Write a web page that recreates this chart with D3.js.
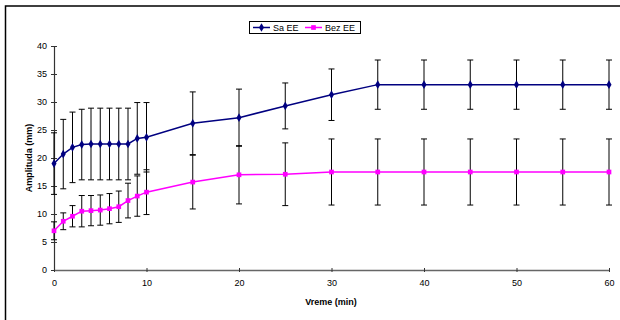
<!DOCTYPE html>
<html><head><meta charset="utf-8">
<script src="https://cdn.jsdelivr.net/npm/d3@7"></script>
<style>body{margin:0;background:#fff}svg{display:block}text{font-family:"Liberation Sans",Arial,sans-serif}</style>
</head><body>
<svg id="c" width="620" height="320"></svg>
<script>
const times = [0,1,2,3,4,5,6,7,8,9,10,15,20,25,30,35,40,45,50,55,60];
const saEE  = [19.0,20.7,21.9,22.4,22.5,22.5,22.5,22.5,22.5,23.5,23.7,26.2,27.2,29.3,31.3,33.1,33.1,33.1,33.1,33.1,33.1];
const saErr = [5.5,6.2,6.3,6.3,6.4,6.4,6.4,6.4,6.4,6.4,6.2,5.6,5.1,4.1,4.6,4.4,4.4,4.4,4.4,4.4,4.4];
const bezEE = [7.0,8.7,9.6,10.5,10.6,10.7,10.95,11.3,12.4,13.2,13.9,15.7,17.0,17.1,17.5,17.5,17.5,17.5,17.5,17.5,17.5];
const bezErr= [1.6,1.5,1.9,2.8,2.7,2.7,2.7,2.8,3.1,3.6,4.0,4.8,5.2,5.6,5.9,5.9,5.9,5.9,5.9,5.9,5.9];
const seriesNames = ["Sa EE","Bez EE"];
const xTicks = [0,10,20,30,40,50,60];
const yTicks = [0,5,10,15,20,25,30,35,40];

const svg = d3.select("#c");
// outer frame
svg.append("rect").attr("x",5.5).attr("y",6).attr("width",640).attr("height",340)
  .attr("fill","none").attr("stroke","#000").attr("stroke-width",1.5);

const x = d3.scaleLinear().domain([0,60]).range([54,609]);
const y = d3.scaleLinear().domain([0,40]).range([270,46]);

const series = [
  {name:seriesNames[0], vals:saEE, err:saErr, color:"#000080", marker:"diamond"},
  {name:seriesNames[1], vals:bezEE, err:bezErr, color:"#FF00FF", marker:"square"}
];

// axes
const yAxis = d3.axisLeft(y).tickValues(yTicks).tickSizeInner(3).tickSizeOuter(0).tickPadding(4);
const gy = svg.append("g").attr("transform","translate(54,0)").call(yAxis);
gy.select(".domain").attr("stroke","#333").attr("stroke-width",1.2);
gy.selectAll(".tick line").attr("x2",3).attr("x1",-3).attr("stroke","#333");
gy.selectAll("text").attr("font-size",9).attr("fill","#000");

const xAxis = d3.axisBottom(x).tickValues(xTicks).tickSizeInner(3).tickSizeOuter(0).tickPadding(7);
const gx = svg.append("g").attr("transform","translate(0,270)").call(xAxis);
gx.select(".domain").attr("stroke","#666").attr("stroke-width",1.5);
gx.selectAll(".tick line").attr("y1",-2).attr("y2",2).attr("stroke","#333");
gx.selectAll("text").attr("font-size",9).attr("fill","#000");

// titles
svg.append("text").attr("x",331).attr("y",305).attr("text-anchor","middle")
  .attr("font-size",9).attr("font-weight","bold").text("Vreme (min)");
svg.append("text").attr("transform","translate(32,158) rotate(-90)").attr("text-anchor","middle")
  .attr("font-size",9).attr("font-weight","bold").text("Amplituda (mm)");

// error bars
series.forEach(s=>{
  const g = svg.append("g");
  times.forEach((t,i)=>{
    const cx = x(t), y1 = y(s.vals[i]+s.err[i]), y2 = y(s.vals[i]-s.err[i]);
    g.append("line").attr("x1",cx).attr("x2",cx).attr("y1",y1).attr("y2",y2).attr("stroke","#000").attr("stroke-width",1);
    [y1,y2].forEach(yy=>g.append("line").attr("x1",cx-3).attr("x2",cx+3).attr("y1",yy).attr("y2",yy).attr("stroke","#000").attr("stroke-width",1));
  });
});

// lines & markers
const sym = {diamond:d3.symbol().type(d3.symbolDiamond).size(22), square:d3.symbol().type(d3.symbolSquare).size(22)};
series.forEach(s=>{
  const line = d3.line().x((d,i)=>x(times[i])).y(d=>y(d));
  svg.append("path").datum(s.vals).attr("d",line).attr("fill","none").attr("stroke",s.color).attr("stroke-width",1.5);
  svg.append("g").selectAll("path").data(s.vals).join("path")
    .attr("transform",(d,i)=>`translate(${x(times[i])},${y(d)})`)
    .attr("d",sym[s.marker]).attr("fill",s.color);
});

// legend
const lg = svg.append("g");
lg.append("rect").attr("x",249.5).attr("y",21.5).attr("width",111).attr("height",12).attr("fill","#fff").attr("stroke","#000");
const items = [{s:series[0],x0:253,tx:273},{s:series[1],x0:305,tx:325}];
items.forEach(it=>{
  lg.append("line").attr("x1",it.x0).attr("x2",it.x0+17).attr("y1",27.5).attr("y2",27.5).attr("stroke",it.s.color).attr("stroke-width",1.5);
  lg.append("path").attr("transform",`translate(${it.x0+8.5},27.5)`).attr("d",sym[it.s.marker]).attr("fill",it.s.color);
  lg.append("text").attr("x",it.tx).attr("y",31).attr("font-size",9).text(it.s.name);
});
</script>
</body></html>
